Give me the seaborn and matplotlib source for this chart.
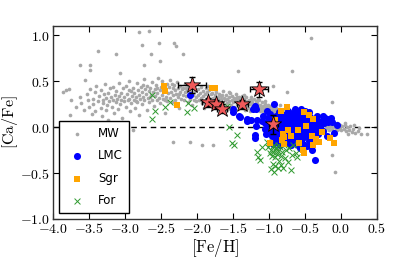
import matplotlib
matplotlib.use("Agg")
import matplotlib.pyplot as plt
from matplotlib.ticker import FuncFormatter, MultipleLocator
import seaborn as sns
import pandas as pd

# ---------------- data ----------------
mw_points = [
    (-3.86,0.38),(-3.82,0.40),(-3.78,0.41),(-3.75,0.29),(-3.76,0.13),(-3.72,0.02),(-3.68,0.22),(-3.63,0.68),(-3.62,0.33),(-3.61,0.26),
    (-3.58,0.05),(-3.55,0.51),(-3.57,0.19),(-3.53,0.36),(-3.52,0.29),(-3.50,0.22),(-3.49,0.68),(-3.49,0.62),(-3.48,0.41),(-3.46,0.14),(-3.45,0.31),(-3.44,0.25),(-3.42,0.38),(-3.41,0.18),(-3.40,0.45),
    (-3.38,0.83),(-3.37,0.28),(-3.36,0.34),(-3.35,-0.03),(-3.34,0.21),(-3.33,0.40),(-3.32,0.12),(-3.31,0.30),(-3.30,0.26),(-3.29,0.36),(-3.28,0.47),(-3.27,0.19),(-3.26,0.32),(-3.25,0.24),(-3.24,0.08),(-3.23,0.37),(-3.22,0.28),(-3.21,0.42),
    (-3.19,0.33),(-3.18,0.22),(-3.17,0.29),(-3.16,0.44),(-3.15,0.15),(-3.14,0.35),(-3.13,0.80),(-3.13,0.27),(-3.12,0.39),(-3.11,0.31),(-3.10,0.20),(-3.09,0.48),(-3.08,0.34),(-3.07,0.59),(-3.07,0.25),(-3.06,0.30),(-3.05,0.37),(-3.04,0.10),(-3.03,0.42),(-3.02,0.28),(-3.01,0.33),
    (-2.99,0.45),(-2.98,0.22),(-2.97,0.36),(-2.96,0.29),(-2.95,0.50),(-2.94,0.31),(-2.93,0.17),(-2.92,0.39),(-2.91,0.26),(-2.90,0.34),(-2.89,-0.03),(-2.89,0.43),(-2.88,0.30),(-2.87,0.37),(-2.86,0.21),(-2.85,0.33),(-2.84,0.48),(-2.83,0.27),(-2.82,0.40),(-2.81,1.03),(-2.81,0.35),(-2.80,0.13),
    (-2.79,0.31),(-2.78,0.44),(-2.77,0.25),(-2.76,0.89),(-2.76,0.38),(-2.75,0.33),(-2.74,0.52),(-2.73,0.68),(-2.73,0.29),(-2.72,0.41),(-2.71,0.36),(-2.70,0.19),(-2.69,0.45),(-2.68,0.32),(-2.67,0.39),(-2.66,1.05),(-2.66,0.27),(-2.65,0.43),(-2.64,0.79),(-2.64,0.35),(-2.63,0.49),(-2.62,0.30),(-2.61,0.38),(-2.60,0.23),
    (-2.59,0.41),(-2.58,0.34),(-2.57,0.46),(-2.56,0.29),(-2.55,0.37),(-2.54,0.53),(-2.53,0.91),(-2.53,0.32),(-2.52,0.72),(-2.52,0.40),(-2.51,0.26),(-2.50,0.44),(-2.49,0.35),(-2.48,0.50),(-2.47,0.31),(-2.46,0.39),(-2.45,0.15),(-2.44,0.42),(-2.43,0.33),(-2.42,0.47),(-2.41,0.28),(-2.40,0.37),
    (-2.39,0.44),(-2.38,0.32),(-2.37,0.51),(-2.36,0.38),(-2.35,0.27),(-2.34,0.42),(-2.33,-0.16),(-2.33,0.35),(-2.32,0.91),(-2.32,0.46),(-2.31,0.30),(-2.30,0.40),(-2.29,0.88),(-2.29,0.36),(-2.28,0.49),(-2.27,0.33),(-2.26,0.43),(-2.25,0.21),(-2.24,0.38),(-2.23,0.45),(-2.22,0.31),(-2.21,0.41),(-2.20,0.35),
    (-2.19,0.80),(-2.19,0.43),(-2.18,0.30),(-2.17,0.38),(-2.16,0.47),(-2.15,0.34),(-2.14,0.40),(-2.13,0.27),(-2.12,0.44),(-2.11,0.36),(-2.10,-0.16),(-2.10,0.31),(-2.09,0.42),(-2.08,0.38),(-2.07,0.24),(-2.06,0.35),(-2.05,0.45),(-2.04,0.30),(-2.03,0.39),(-2.02,0.33),(-2.01,0.28),
    (-1.99,0.41),(-1.98,0.35),(-1.97,0.29),(-1.96,0.37),(-1.95,0.44),(-1.94,0.32),(-1.93,-0.19),(-1.93,0.26),(-1.92,0.39),(-1.91,0.34),(-1.90,0.21),(-1.89,0.36),(-1.88,0.42),(-1.87,0.30),(-1.86,0.38),(-1.85,0.33),(-1.84,0.25),(-1.83,0.40),(-1.82,0.31),(-1.81,0.36),
    (-1.80,0.28),(-1.79,0.37),(-1.78,-0.19),(-1.78,0.32),(-1.77,0.41),(-1.76,0.26),(-1.75,0.35),(-1.74,0.30),(-1.73,0.38),(-1.72,0.22),(-1.71,0.33),(-1.70,0.29),(-1.69,0.36),(-1.68,0.25),(-1.67,0.31),(-1.66,0.34),(-1.65,0.27),(-1.64,0.39),(-1.63,0.23),(-1.62,0.32),(-1.61,0.29),
    (-1.60,0.35),(-1.59,0.26),(-1.58,0.31),(-1.57,0.20),(-1.56,0.33),(-1.55,0.28),(-1.54,0.37),(-1.53,0.24),(-1.52,0.30),(-1.51,0.34),(-1.50,0.27),(-1.49,0.22),(-1.48,0.32),(-1.47,0.29),(-1.46,0.36),(-1.45,0.25),(-1.44,0.31),(-1.43,0.61),(-1.43,0.28),(-1.42,0.33),(-1.41,0.21),
    (-1.40,0.30),(-1.39,0.26),(-1.38,0.34),(-1.37,0.23),(-1.36,0.29),(-1.35,0.31),(-1.34,0.19),(-1.33,0.27),(-1.32,0.33),(-1.31,0.24),(-1.30,0.28),(-1.29,0.21),(-1.28,0.30),(-1.27,0.25),(-1.26,0.18),(-1.25,0.29),(-1.24,0.23),(-1.23,0.27),(-1.22,0.20),(-1.21,0.31),
    (-1.20,0.25),(-1.19,0.22),(-1.18,0.28),(-1.17,0.19),(-1.16,0.26),(-1.15,0.23),(-1.14,0.29),(-1.13,0.17),(-1.12,0.24),(-1.11,0.21),(-1.10,0.27),(-1.09,0.18),(-1.08,0.23),(-1.07,0.20),(-1.06,0.25),(-1.05,0.16),(-1.04,0.22),(-1.03,0.19),(-1.02,0.24),(-1.01,0.15),
    (-1.00,0.21),(-0.99,0.18),(-0.98,0.23),(-0.97,0.14),(-0.96,0.20),(-0.95,0.17),(-0.94,0.45),(-0.94,0.22),(-0.93,0.13),(-0.92,0.19),(-0.91,0.16),(-0.90,0.21),(-0.89,0.12),(-0.88,0.18),(-0.87,0.15),(-0.86,0.20),(-0.85,0.11),(-0.84,0.17),(-0.83,0.14),(-0.82,0.19),(-0.81,0.10),
    (-0.80,0.16),(-0.79,0.13),(-0.78,0.18),(-0.77,0.09),(-0.76,0.15),(-0.75,0.38),(-0.75,0.12),(-0.74,0.17),(-0.73,0.08),(-0.72,0.14),(-0.71,0.11),(-0.70,0.16),(-0.69,0.07),(-0.68,0.61),(-0.68,0.13),(-0.67,0.10),(-0.66,0.15),(-0.65,0.06),(-0.64,0.12),(-0.63,0.09),(-0.62,0.14),(-0.61,0.05),
    (-0.60,0.11),(-0.59,0.08),(-0.58,0.13),(-0.57,0.04),(-0.56,0.10),(-0.55,0.07),(-0.54,0.12),(-0.53,0.03),(-0.52,0.09),(-0.51,0.06),(-0.50,0.11),(-0.49,0.02),(-0.48,0.08),(-0.47,0.05),(-0.46,0.10),(-0.45,0.01),(-0.44,0.07),(-0.43,0.04),(-0.42,0.09),(-0.41,0.97),(-0.41,0.00),
    (-0.40,0.06),(-0.39,0.03),(-0.38,0.08),(-0.37,-0.01),(-0.36,0.05),(-0.35,0.02),(-0.34,0.07),(-0.33,-0.02),(-0.32,0.04),(-0.31,0.01),(-0.30,0.06),(-0.29,-0.03),(-0.28,0.03),(-0.27,0.00),(-0.26,0.05),(-0.25,-0.02),(-0.24,0.02),(-0.23,0.04),(-0.22,-0.04),(-0.21,0.01),
    (-0.20,0.03),(-0.19,-0.01),(-0.18,0.05),(-0.17,0.00),(-0.16,-0.03),(-0.15,0.02),(-0.14,0.04),(-0.13,0.27),(-0.13,-0.02),(-0.12,0.01),(-0.11,0.03),(-0.10,-0.04),(-0.09,0.00),(-0.08,-0.49),(-0.08,0.02),(-0.07,-0.01),(-0.06,0.03),(-0.05,-0.03),(-0.04,0.01),(-0.03,-0.02),(-0.02,0.02),(-0.01,0.00),
    (0.00,-0.03),(0.02,0.01),(0.04,-0.02),(0.05,0.02),(0.07,-0.04),(0.09,0.00),(0.11,-0.03),(0.13,0.01),(0.15,-0.05),(0.17,-0.02),(0.20,-0.06),(0.23,-0.04),(0.28,-0.07),(0.36,-0.08),(-0.13,-0.30),
    (-2.95,0.40),(-2.85,0.28),(-2.75,0.46),(-2.65,0.33),(-2.55,0.43),(-2.45,0.30),(-2.35,0.47),(-2.25,0.36),(-2.15,0.42),(-2.05,0.36),
    (-1.95,0.30),(-1.85,0.45),(-1.75,0.27),(-1.65,0.35),(-1.55,0.38),(-1.45,0.33),(-1.35,0.35),(-1.25,0.33),(-1.15,0.31),(-1.05,0.28),
    (-0.95,0.26),(-0.85,0.24),(-0.35,0.10),(-0.25,0.08),(-0.15,0.07),(-0.05,0.05),(0.05,0.04),(0.10,-0.08),(0.18,0.02),(0.25,-0.01),
]

lmc_points = [
    (-2.10,0.35),(-1.50,0.20),(-1.50,0.16),(-1.42,0.12),(-1.40,0.11),(-1.31,0.09),(-1.30,0.07),(-1.25,0.08),(-1.20,0.23),(-1.22,0.20),(-1.18,0.20),(-1.17,0.08),(-1.18,0.01),(-1.20,-0.09),(-1.19,-0.12),(-1.10,0.07),(-1.03,0.17),
    (-1.08,0.12),(-1.06,-0.02),(-1.05,0.05),(-1.04,-0.08),(-1.02,0.10),(-1.00,0.02),(-0.99,-0.05),(-0.98,0.14),(-0.97,0.06),(-0.96,-0.10),(-0.95,0.00),(-0.94,0.09),(-0.93,0.25),(-0.92,-0.03),(-0.91,0.04),(-0.90,0.12),
    (-0.89,-0.07),(-0.88,0.07),(-0.87,0.01),(-0.86,0.16),(-0.85,-0.12),(-0.84,0.05),(-0.83,-0.02),(-0.82,0.10),(-0.81,0.03),(-0.80,-0.06),(-0.79,0.13),(-0.78,0.00),(-0.77,0.08),(-0.76,-0.09),(-0.75,0.04),(-0.74,0.18),
    (-0.73,-0.01),(-0.72,0.06),(-0.71,-0.04),(-0.70,0.11),(-0.69,0.02),(-0.68,-0.08),(-0.67,0.07),(-0.66,0.15),(-0.65,-0.03),(-0.64,0.20),(-0.64,0.04),(-0.63,-0.12),(-0.62,0.09),(-0.61,0.00),(-0.60,-0.06),(-0.59,0.12),
    (-0.58,0.03),(-0.57,-0.02),(-0.56,0.08),(-0.55,-0.15),(-0.54,0.05),(-0.53,-0.04),(-0.52,0.10),(-0.51,0.01),(-0.50,-0.08),(-0.49,0.06),(-0.48,-0.01),(-0.47,0.13),(-0.46,0.03),(-0.45,-0.10),(-0.44,0.07),(-0.43,-0.03),
    (-0.42,0.02),(-0.41,0.09),(-0.40,-0.05),(-0.39,0.04),(-0.38,-0.13),(-0.37,0.06),(-0.36,-0.36),(-0.35,0.00),(-0.34,0.08),(-0.33,0.12),(-0.32,-0.07),(-0.31,0.03),(-0.30,-0.02),(-0.29,0.00),(-0.27,0.07),(-0.25,-0.04),
    (-0.23,0.05),(-0.20,-0.10),(-0.17,0.09),(-0.14,0.10),(-0.12,0.06),(-0.10,-0.06),(-0.06,0.02),
    (-0.78,0.05),(-0.75,-0.05),(-0.72,0.10),(-0.70,-0.02),(-0.68,0.04),(-0.66,-0.06),(-0.63,0.06),(-0.61,-0.09),(-0.58,-0.05),(-0.56,0.02),(-0.54,-0.09),(-0.52,0.04),(-0.50,0.07),(-0.48,-0.06),
    (-0.77,-0.13),(-0.73,-0.17),(-0.69,-0.20),(-0.65,-0.16),(-0.60,-0.19),(-0.57,-0.23),(-0.53,-0.18),(-0.47,-0.21),(-0.44,-0.15),(-0.42,-0.19),(-0.40,-0.25),(-0.85,-0.20),(-0.82,-0.16),(-0.90,-0.14),(-0.95,-0.18),
    (-0.56,0.20),(-0.50,0.18),(-0.45,0.16),(-0.25,0.12),(-0.22,0.10),(-0.18,0.06),
    (-0.74,0.01),(-0.71,0.08),(-0.67,-0.01),(-0.65,0.10),(-0.62,-0.03),(-0.60,0.05),(-0.57,0.10),(-0.55,-0.06),(-0.53,0.08),(-0.51,-0.11),
    (-0.49,0.12),(-0.46,-0.04),(-0.44,0.01),(-0.41,-0.08),(-0.38,0.01),(-0.36,0.09),(-0.70,-0.12),(-0.66,-0.10),(-0.62,-0.15),(-0.58,-0.11),
    (-0.87,-0.04),(-0.84,0.12),(-0.80,0.07),(-0.72,-0.09),(-0.69,0.14),(-0.63,0.16),(-0.55,0.14),(-0.47,0.09),(-0.43,0.11),(-0.37,-0.06),
]

sgr_points = [
    (-2.46,0.45),(-2.44,0.39),(-2.28,0.24),(-1.79,0.42),(-1.75,0.42),(-0.83,0.17),(-0.75,0.22),(-0.51,0.16),(-0.39,0.09),(-0.92,0.08),
    (-0.74,-0.03),(-0.80,-0.07),(-0.79,-0.11),(-0.82,-0.14),(-0.79,-0.18),(-0.99,-0.17),(-0.49,0.01),(-0.40,-0.10),(-0.58,-0.17),(-0.53,-0.25),
    (-0.52,-0.28),(-0.39,-0.20),(-0.31,-0.16),(-0.10,-0.17),(-0.60,-0.03),(-0.45,0.13),(-0.70,-0.10),(-0.27,-0.05),(-0.15,-0.12),(-0.35,-0.13),
]

for_points = [
    (-2.63,0.35),(-2.58,0.18),(-2.62,0.09),(-2.45,0.22),(-2.37,0.27),(-2.14,0.16),(-2.04,0.21),(-2.12,0.26),(-1.58,0.23),(-1.56,0.00),
    (-1.45,-0.09),(-1.49,-0.19),(-1.52,-0.17),(-1.17,-0.27),(-1.13,-0.36),(-1.15,-0.33),(-1.10,-0.22),
    (-1.03,-0.16),(-1.01,-0.22),(-0.99,-0.28),(-0.98,-0.18),(-0.97,-0.25),(-0.96,-0.31),(-0.95,-0.21),(-0.94,-0.27),(-0.93,-0.49),(-0.93,-0.19),
    (-0.92,-0.25),(-0.91,-0.33),(-0.91,-0.42),(-0.90,-0.23),(-0.89,-0.29),(-0.88,-0.45),(-0.88,-0.20),(-0.87,-0.26),(-0.86,-0.37),(-0.85,-0.22),
    (-0.84,-0.31),(-0.83,-0.41),(-0.82,-0.27),(-0.80,-0.44),(-0.79,-0.20),(-0.78,-0.34),(-0.76,-0.25),(-0.74,-0.38),(-0.72,-0.23),(-0.70,-0.47),
    (-0.68,-0.30),(-0.66,-0.20),(-0.63,-0.28),(-0.61,-0.32),(-0.60,-0.18),(-0.95,-0.40),(-0.97,-0.46),
]

star_feh = [-2.07, -1.85, -1.74, -1.65, -1.37, -1.14, -0.94]
star_cafe = [0.46, 0.27, 0.25, 0.20, 0.25, 0.41, 0.03]
star_feh_err = [0.19, 0.08, 0.07, 0.07, 0.08, 0.125, 0.06]
star_cafe_err = [0.09, 0.05, 0.05, 0.05, 0.05, 0.085, 0.10]

group_labels = ["MW", "LMC", "Sgr", "For"]

# ---------------- figure ----------------
plt.rcParams.update({
    "mathtext.fontset": "cm",
    "font.family": ["DejaVu Sans"],
    "xtick.direction": "in", "ytick.direction": "in",
    "xtick.top": True, "ytick.right": True,
    "xtick.major.size": 4, "ytick.major.size": 4,
    "axes.linewidth": 1.0,
})

fig = plt.figure(figsize=(4.19, 2.59), dpi=100)
ax = fig.add_axes([53/419, 1-219/259, 324/419, 193/259])

def to_df(points):
    return pd.DataFrame(points, columns=["feh", "cafe"])

mw = to_df(mw_points); lmc = to_df(lmc_points); sgr = to_df(sgr_points); fnx = to_df(for_points)

sns.scatterplot(data=mw, x="feh", y="cafe", ax=ax, color="#a8a8a8", s=7, linewidth=0, label=group_labels[0], zorder=1)
sns.scatterplot(data=lmc, x="feh", y="cafe", ax=ax, color="#0000ff", s=26, linewidth=0, label=group_labels[1], zorder=2)
sns.scatterplot(data=sgr, x="feh", y="cafe", ax=ax, color="#ffa500", marker="s", s=20, linewidth=0, label=group_labels[2], zorder=3)
sns.scatterplot(data=fnx, x="feh", y="cafe", ax=ax, color="#2e9a2e", marker="x", s=18, linewidth=0.7, label=group_labels[3], zorder=2.5)

ax.errorbar(star_feh, star_cafe, xerr=star_feh_err, yerr=star_cafe_err, fmt="none",
            ecolor="black", elinewidth=1.0, capsize=2.5, capthick=1.0, zorder=4)
sns.scatterplot(x=star_feh, y=star_cafe, ax=ax, marker="*", s=150, color="#f05a5a",
                edgecolor="black", linewidth=0.6, zorder=5, legend=False)

ax.axhline(0.0, color="black", linestyle="--", linewidth=1.0, dashes=(4, 3), zorder=0.5)

ax.set_xlim(-4.0, 0.5)
ax.set_ylim(-1.0, 1.1)
ax.xaxis.set_major_locator(MultipleLocator(0.5))
ax.yaxis.set_major_locator(MultipleLocator(0.5))
fmt = FuncFormatter(lambda v, p: r"$%.1f$" % v)
ax.xaxis.set_major_formatter(fmt)
ax.yaxis.set_major_formatter(fmt)
ax.tick_params(labelsize=10, pad=2)
ax.set_xlabel(r"$[\mathrm{Fe/H}]$", fontsize=12, labelpad=1)
ax.set_ylabel(r"$[\mathrm{Ca/Fe}]$", fontsize=11.5, labelpad=0)
for sp in ax.spines.values():
    sp.set_color("#333333")

leg = ax.legend(loc="lower left", fontsize=8.5, scatterpoints=1, fancybox=False,
                edgecolor="black", framealpha=1, labelspacing=0.8, borderpad=0.5)
leg.get_frame().set_linewidth(1.0)

fig.savefig("out.png", dpi=100)
